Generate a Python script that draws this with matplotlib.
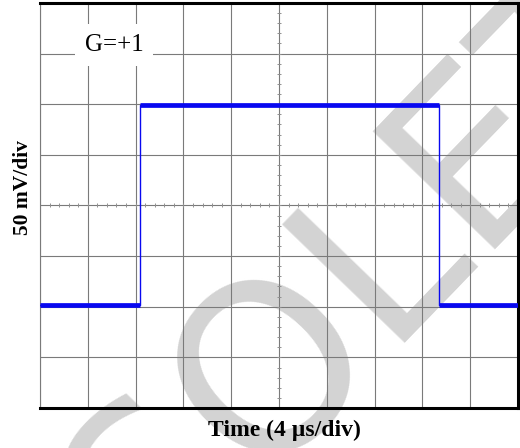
import numpy as np
import matplotlib
matplotlib.use('Agg')
import matplotlib.pyplot as plt

# scope trace (4 us/div, 50 mV/div)
time_us = [0.0, 8.37, 8.37, 33.4, 33.4, 40.0]
volt_mv = [-98, -98, 99, 99, -98, -98]
gain_label = 'G=+1'
x_label = 'Time (4 µs/div)'
y_label = '50 mV/div'
watermark = 'OBSOLETE'

us_per_div = 4
mv_per_div = 50

fig = plt.figure(figsize=(5.2, 4.48), dpi=100)
ax = fig.add_axes([40 / 520, 1 - 408 / 448, 478 / 520, 405 / 448])
ax.set_facecolor('none')

# watermark behind everything
fig.text(350 / 520, 1 - 386 / 448, watermark, rotation=46, rotation_mode='anchor',
         ha='center', va='baseline', fontsize=168, color='#d3d3d3',
         family='DejaVu Sans', zorder=-5)

ax.set_xlim(0, 10 * us_per_div)
ax.set_ylim(-4 * mv_per_div, 4 * mv_per_div)
ax.set_xticks(np.arange(0, 10 * us_per_div + 1, us_per_div))
ax.set_yticks(np.arange(-4 * mv_per_div, 4 * mv_per_div + 1, mv_per_div))
ax.grid(True, color='#7a7a7a', linewidth=0.8)
ax.tick_params(length=0, labelbottom=False, labelleft=False)

# small ticks on the centre lines
minor_t = np.arange(0, 10 * us_per_div, us_per_div / 5)
minor_v = np.arange(-4 * mv_per_div, 4 * mv_per_div, mv_per_div / 5)
ax.plot(minor_t, np.zeros_like(minor_t), '|', color='#909090', ms=3, mew=0.7)
ax.plot(np.full_like(minor_v, 5 * us_per_div), minor_v, '_', color='#909090', ms=3, mew=0.7)

for side in ['top', 'bottom', 'right']:
    ax.spines[side].set_linewidth(2.2)
    ax.spines[side].set_color('black')
ax.spines['left'].set_linewidth(0.8)
ax.spines['left'].set_color('#7a7a7a')

# trace: thin edges, thicker noisy-looking flat parts
ax.plot(time_us, volt_mv, color='#0808f0', linewidth=1.0, zorder=4)
for i in range(0, len(time_us) - 1, 2):
    ax.plot(time_us[i:i + 2], volt_mv[i:i + 2], color='#0808f0', linewidth=3.4,
            solid_capstyle='butt', zorder=4)

ax.text(74 / 478, 1 - 42 / 405, gain_label, transform=ax.transAxes,
        ha='center', va='center', fontsize=18, family='Liberation Serif',
        bbox=dict(facecolor='white', edgecolor='none', pad=7), zorder=5)

ax.set_xlabel(x_label, fontsize=17, fontweight='bold', family='Liberation Serif')
ax.xaxis.set_label_coords(0.5115, -12 / 405, transform=ax.transAxes)
ax.xaxis.label.set_va('top')
ax.set_ylabel(y_label, fontsize=15.5, fontweight='bold', family='Liberation Serif')
ax.yaxis.set_label_coords(-7 / 478, 0.545)

fig.savefig('out.png', dpi=100)
